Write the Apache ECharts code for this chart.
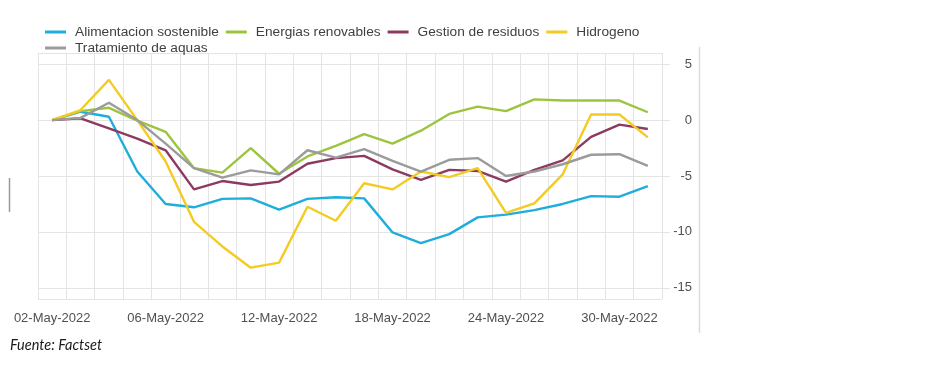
<!DOCTYPE html>
<html>
<head>
<meta charset="utf-8">
<script src="https://cdn.jsdelivr.net/npm/echarts@6/dist/echarts.min.js"></script>
<style>
html,body{margin:0;padding:0;background:#fff;}
#chart{width:942px;height:369px;}
</style>
</head>
<body>
<div id="chart"></div>
<script>
const dates = ['02-May-2022','03-May-2022','04-May-2022','05-May-2022','06-May-2022','09-May-2022','10-May-2022','11-May-2022','12-May-2022','13-May-2022','16-May-2022','17-May-2022','18-May-2022','19-May-2022','20-May-2022','23-May-2022','24-May-2022','25-May-2022','26-May-2022','27-May-2022','30-May-2022','31-May-2022'];
const seriesNames = ['Alimentacion sostenible','Energias renovables','Gestion de residuos','Hidrogeno','Tratamiento de aquas'];
const alimentacion = [0, 0.75, 0.3, -4.6, -7.5, -7.8, -7.05, -7.0, -8.0, -7.05, -6.9, -7.0, -10.05, -11.0, -10.2, -8.7, -8.45, -8.05, -7.5, -6.8, -6.85, -5.9];
const energias = [0, 0.8, 1.1, -0.05, -1.05, -4.3, -4.7, -2.5, -4.8, -3.25, -2.3, -1.25, -2.1, -0.95, 0.55, 1.2, 0.8, 1.85, 1.75, 1.75, 1.75, 0.7];
const gestion = [0, 0.15, -0.75, -1.65, -2.7, -6.2, -5.45, -5.8, -5.5, -3.9, -3.4, -3.2, -4.4, -5.35, -4.45, -4.55, -5.5, -4.45, -3.6, -1.5, -0.4, -0.8];
const hidrogeno = [0, 0.9, 3.6, 0, -3.7, -9.1, -11.3, -13.2, -12.75, -7.75, -9.0, -5.65, -6.2, -4.6, -5.1, -4.3, -8.3, -7.45, -4.85, 0.5, 0.5, -1.55];
const tratamiento = [0, 0.2, 1.55, 0, -2.1, -4.3, -5.15, -4.5, -4.85, -2.7, -3.35, -2.6, -3.65, -4.6, -3.55, -3.4, -5.0, -4.6, -3.95, -3.1, -3.05, -4.1];
const colors = ['#1FAEDB','#9DC43F','#8C3A62','#F3CB22','#9B9B9B'];
const seriesData = [alimentacion, energias, gestion, hidrogeno, tratamiento];

const chart = echarts.init(document.getElementById('chart'), null, {renderer:'canvas'});
const gridColor = '#e4e4e4';
const legendText = {color:'#404040', fontSize:13.7, fontFamily:'Liberation Sans, Arial, sans-serif', padding:[0,0,0,4]};
chart.setOption({
  animation:false,
  color: colors,
  grid:{left:38, right:280, top:53, bottom:70, containLabel:false},
  legend:[
    {data:seriesNames.slice(0,4), left:45, top:25, itemWidth:21, itemHeight:3, itemGap:7, icon:'rect', textStyle:legendText, padding:0},
    {data:seriesNames.slice(4), left:45, top:41, itemWidth:21, itemHeight:3, itemGap:7, icon:'rect', textStyle:legendText, padding:0}
  ],
  xAxis:{
    type:'category', data:dates, boundaryGap:true,
    axisLine:{show:true, lineStyle:{color:gridColor, width:1}},
    axisTick:{show:true, interval:0, length:8, lineStyle:{color:gridColor}},
    splitLine:{show:true, interval:0, lineStyle:{color:gridColor, width:1}},
    axisLabel:{interval:3, color:'#505050', fontSize:13, margin:13, fontFamily:'Liberation Sans, Arial, sans-serif'}
  },
  yAxis:{
    type:'value', position:'right', min:-16, max:6,
    axisLine:{show:false},
    axisTick:{show:true, length:8, inside:false, lineStyle:{color:gridColor}},
    splitLine:{show:true, lineStyle:{color:gridColor, width:1}},
    axisLabel:{showMinLabel:false, showMaxLabel:false, align:'right', margin:30, color:'#505050', fontSize:13, fontFamily:'Liberation Sans, Arial, sans-serif'}
  },
  series: seriesNames.map((n,i)=>({
    name:n, type:'line', data:seriesData[i], symbol:'none', smooth:false,
    lineStyle:{width:2.4, color:colors[i]}, itemStyle:{color:colors[i]}
  })),
  graphic:[
    {type:'text', left:10, top:338, style:{text:'Fuente: Factset', fontSize:14.5, fontStyle:'italic', fontFamily:'Lato, Liberation Sans, sans-serif', fill:'#1a1a1a'}},
    {type:'line', shape:{x1:699.5, y1:47, x2:699.5, y2:333}, style:{stroke:'#dcdcdc', lineWidth:1.5}},
    {type:'line', shape:{x1:9.5, y1:178, x2:9.5, y2:212}, style:{stroke:'#9a9a9a', lineWidth:1.5}}
  ]
});
</script>
</body>
</html>
